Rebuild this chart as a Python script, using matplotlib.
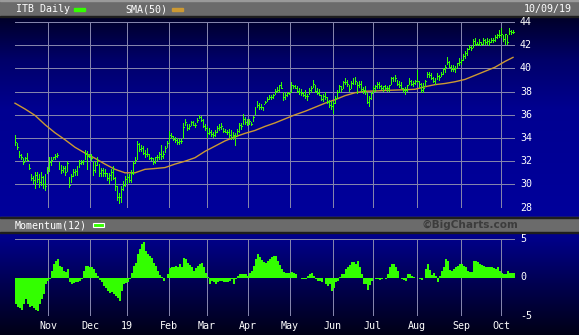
import numpy as np
import matplotlib
matplotlib.use("Agg")
import matplotlib.pyplot as plt
from matplotlib.patches import Rectangle

# ---------------- data ----------------
ticker = "ITB"
date_label = "10/09/19"

high = [
34.3,33.6,32.9,32.6,32.3,32.4,32.7,31.8,30.9,30.7,
31.1,31.1,30.9,31.1,30.7,30.9,31.5,32.4,32.4,32.4,
32.6,32.7,31.9,31.7,31.6,31.6,32.0,30.6,30.9,31.3,
31.3,31.6,32.1,32.1,32.1,33.0,32.9,32.6,32.6,32.0,
31.9,32.4,31.8,31.4,31.4,31.3,31.0,31.0,31.3,31.6,
30.6,29.9,29.3,29.9,30.3,30.7,30.9,30.9,31.2,32.0,
32.4,33.7,33.6,33.4,33.3,33.0,33.1,32.6,32.4,32.3,
32.4,32.5,32.8,33.4,32.9,33.3,33.7,34.6,34.4,34.2,
34.1,34.0,33.9,33.9,35.3,35.6,35.2,35.2,35.5,35.5,
35.3,35.7,36.0,35.9,35.6,35.2,35.0,34.9,34.7,34.5,
34.7,35.0,35.2,35.3,34.9,34.8,34.7,34.8,34.7,34.5,
34.4,34.8,35.3,35.3,36.1,35.8,35.6,35.6,35.4,35.9,
36.7,37.2,37.0,36.9,36.7,37.2,37.5,37.7,37.7,37.8,
38.2,38.4,38.6,38.8,38.0,37.9,38.0,38.0,38.8,38.6,
38.6,38.5,38.3,38.2,38.0,38.1,37.8,38.3,38.5,39.0,
38.6,38.3,38.2,37.7,37.8,38.0,37.5,37.3,37.2,37.2,
37.6,38.1,38.6,38.5,38.9,39.2,39.0,38.6,38.9,39.2,
39.3,38.8,38.9,38.9,38.4,38.5,37.9,37.6,38.0,38.5,
38.6,38.8,38.8,38.6,38.5,38.6,38.5,38.6,39.3,39.3,
39.4,39.0,38.9,38.8,38.3,38.4,38.6,39.2,39.0,38.9,
39.0,39.9,38.9,38.7,38.7,39.0,39.7,39.7,39.6,39.3,
39.2,39.6,39.4,39.7,40.0,40.3,41.0,40.6,40.3,40.3,
40.2,40.5,40.9,40.8,41.2,41.5,41.8,42.0,41.9,42.5,
42.6,42.3,42.5,42.3,42.6,42.5,42.6,42.5,42.6,42.6,
42.9,43.0,43.3,43.5,42.9,43.0,42.9,43.5,43.3,43.3]

low = [
33.3,33.0,32.3,32.1,31.7,31.9,32.0,31.2,30.3,30.0,
29.6,30.1,29.7,29.9,29.6,29.4,30.9,31.1,31.6,32.1,
32.1,32.3,31.2,30.9,31.0,30.7,31.1,29.7,30.1,30.6,
30.7,30.7,31.4,31.7,31.7,32.1,31.2,32.3,32.0,30.7,
31.0,31.6,30.6,30.6,30.6,30.6,30.3,30.0,30.3,30.4,
29.4,28.6,28.3,28.4,29.4,29.8,30.0,30.1,30.1,30.8,
31.8,32.1,32.8,32.8,32.5,32.3,32.4,32.1,32.0,31.7,
31.8,32.0,32.1,32.1,32.2,32.7,33.1,33.6,33.9,33.7,
33.6,33.4,33.4,33.5,33.9,35.0,34.6,34.7,35.0,35.0,
34.9,35.3,35.6,35.4,34.9,34.6,34.0,34.3,34.1,34.0,
34.1,34.4,34.6,34.7,34.4,34.4,34.3,34.0,33.8,33.8,
33.3,34.1,34.4,34.7,35.1,35.1,35.0,35.1,35.0,35.4,
36.0,36.6,36.4,36.4,36.3,36.9,37.1,37.3,37.3,37.4,
37.7,37.9,38.0,38.2,37.2,37.3,37.5,37.7,37.9,38.2,
38.2,37.9,37.7,37.6,37.5,37.4,37.2,37.7,37.9,38.3,
37.9,37.7,37.6,37.2,37.1,37.3,36.9,36.6,36.4,36.1,
36.9,37.4,37.9,38.0,38.2,38.6,38.4,38.0,38.2,38.6,
38.6,37.8,38.3,38.0,37.8,37.7,36.9,36.7,37.3,37.9,
38.0,38.2,38.2,38.1,38.0,38.1,38.0,38.0,38.6,38.8,
38.8,38.5,38.3,38.2,37.9,37.7,38.0,38.6,38.5,38.4,
38.6,38.7,38.3,37.9,37.9,38.4,39.2,39.2,39.0,38.7,
38.6,39.0,38.9,39.3,39.4,39.6,40.3,40.0,39.7,39.7,
39.6,40.0,40.2,40.3,40.6,40.8,41.1,41.6,41.5,41.8,
41.9,41.9,41.9,41.9,42.0,42.0,42.0,41.9,42.2,42.2,
42.3,42.5,42.6,42.6,42.3,42.0,42.0,42.9,42.9,43.0]

close = [
33.6,33.2,32.5,32.3,31.9,32.2,32.1,31.4,30.5,30.3,
30.8,30.4,30.2,30.6,30.0,29.8,31.3,31.9,32.1,32.3,
32.4,32.5,31.5,31.2,31.4,31.0,31.8,29.9,30.7,31.0,
31.1,31.5,31.8,31.9,32.0,32.6,32.4,32.5,32.2,31.2,
31.6,32.0,30.9,31.2,30.9,30.9,30.5,30.8,31.0,30.5,
29.8,28.9,28.9,29.6,29.9,30.4,30.6,30.3,30.9,31.8,
32.1,33.4,33.0,33.1,32.7,32.6,32.6,32.2,32.2,31.9,
32.3,32.3,32.6,32.4,32.6,33.1,33.5,34.2,34.1,33.9,
33.8,33.6,33.7,33.7,34.9,35.3,34.8,35.0,35.3,35.1,
35.1,35.5,35.8,35.5,35.0,34.8,34.4,34.5,34.3,34.2,
34.5,34.8,34.9,35.0,34.6,34.5,34.5,34.2,34.0,34.2,
34.0,34.6,35.1,35.0,35.6,35.3,35.2,35.4,35.2,35.8,
36.5,36.8,36.6,36.6,36.9,37.1,37.3,37.5,37.5,37.7,
38.0,38.1,38.5,38.3,37.5,37.7,37.8,37.9,38.5,38.4,
38.3,38.0,37.9,37.8,37.7,37.6,37.6,38.1,38.3,38.6,
38.0,37.8,37.7,37.3,37.6,37.5,37.1,36.8,36.7,37.0,
37.4,37.9,38.4,38.2,38.8,38.8,38.6,38.2,38.7,39.0,
38.9,38.5,38.6,38.2,38.1,37.9,37.1,37.4,37.8,38.3,
38.4,38.6,38.4,38.3,38.4,38.3,38.3,38.5,39.1,39.0,
39.1,38.6,38.5,38.3,38.1,38.1,38.5,38.9,38.6,38.7,
38.9,38.9,38.6,38.1,38.3,38.9,39.5,39.4,39.1,38.9,
39.0,39.3,39.2,39.5,39.9,40.1,40.5,40.1,39.9,39.9,
40.0,40.4,40.5,40.7,41.0,41.3,41.6,41.8,41.7,42.3,
42.1,42.1,42.2,42.1,42.4,42.2,42.3,42.2,42.4,42.4,
42.7,42.8,42.8,42.9,42.5,42.9,42.2,43.2,43.1,43.1]

# SMA(50) read every 5 trading days
sma_day = [0,5,10,15,20,25,30,35,40,45,50,55,60,65,70,75,80,85,90,95,
           100,105,110,115,120,125,130,135,140,145,150,155,160,165,170,175,
           180,185,190,195,200,205,210,215,220,225,230,235,240,245,249]
sma_val = [37.0,36.5,35.95,35.15,34.45,33.85,33.2,32.7,32.25,31.75,31.3,31.0,
           31.0,31.3,31.37,31.45,31.75,32.0,32.3,32.85,33.3,33.75,34.1,34.4,
           34.65,35.0,35.3,35.65,36.0,36.3,36.65,37.0,37.3,37.65,37.9,38.03,
           38.05,38.1,38.13,38.16,38.2,38.42,38.6,38.7,38.85,39.05,39.4,39.75,
           40.1,40.6,40.95]

momentum = [
-3.4,-3.8,-4.0,-4.2,-3.4,-2.8,-3.5,-3.8,-3.7,-3.9,
-4.2,-4.3,-3.4,-2.8,-2.1,-0.9,-0.5,-0.2,0.8,1.7,
2.1,2.4,1.5,1.3,0.9,0.7,1.1,-0.6,-0.8,-0.7,
-0.6,-0.6,-0.4,-0.2,0.85,1.5,1.5,1.4,1.4,1.1,
0.6,0.2,-0.3,-0.6,-1.1,-1.3,-1.7,-2.0,-1.9,-2.2,
-2.4,-2.6,-3.0,-1.8,-0.9,-0.7,-0.6,-0.2,0.6,1.5,
1.9,3.0,3.7,4.3,4.6,3.4,3.0,2.8,2.5,1.9,
1.5,0.85,0.3,0.05,-0.5,0.0,0.4,1.2,1.4,1.4,
1.5,1.3,1.7,1.3,2.5,2.35,1.9,1.6,1.3,0.85,
1.2,1.5,1.8,1.9,1.3,0.6,0.1,-0.8,-0.4,-0.6,
-0.85,-0.6,-0.5,-0.4,-0.6,-0.6,-0.6,-0.4,-0.2,-0.85,
-0.2,0.2,0.4,0.4,0.4,0.4,0.2,0.6,0.85,1.5,
2.35,3.0,2.7,2.3,2.0,1.9,2.1,2.4,2.6,2.8,
2.8,2.1,1.6,1.1,0.7,0.6,0.6,0.6,0.7,0.6,
0.4,-0.1,-0.1,-0.2,-0.2,-0.2,0.2,0.5,0.6,0.2,
-0.2,-0.4,-0.5,-0.6,0.0,-0.85,-1.1,-0.8,-1.7,-1.3,
-0.6,-0.4,0.1,0.4,0.4,1.1,1.3,1.6,2.0,2.0,
1.8,2.1,1.4,0.5,-0.85,-0.85,-1.6,-1.0,-0.5,0.0,
-0.2,-0.2,-0.3,-0.2,0.0,-0.2,0.4,1.3,1.8,1.8,
1.3,0.85,0.0,-0.2,-0.3,-0.4,0.4,0.5,0.2,0.1,
-0.1,0.0,-0.2,-0.3,0.0,1.1,1.7,1.0,0.3,0.6,
0.2,-0.6,0.2,0.8,1.3,2.35,2.1,1.0,0.85,1.1,
1.3,1.5,1.8,1.8,1.5,1.3,0.85,0.7,0.7,2.1,
2.1,2.0,1.8,1.6,1.5,1.3,1.3,1.3,1.4,1.2,
1.1,1.3,0.85,0.6,0.4,0.4,0.85,0.6,0.6,0.6]

month_labels = ["Nov", "Dec", "19", "Feb", "Mar", "Apr", "May", "Jun", "Jul", "Aug", "Sep", "Oct"]
month_start = [16.5, 37.5, 56, 77, 96, 116.5, 137.5, 159, 179, 201, 223, 243]
price_ticks = [28, 30, 32, 34, 36, 38, 40, 42, 44]
mom_ticks = [-5, 0, 5]

# ---------------- styling ----------------
W, H = 579, 335
GREEN = "#33ff00"
SMA_C = "#cc9933"
GRID = "#8484ac"
FONT = "DejaVu Sans Mono"
FS = 7.2
GRID_LW = 0.72  # one pixel at 100 dpi

fig = plt.figure(figsize=(W / 100, H / 100), dpi=100)

# background axes in pixel coordinates
bg = fig.add_axes([0, 0, 1, 1])
bg.set_xlim(0, W)
bg.set_ylim(H, 0)
bg.axis("off")
ys = np.arange(H) + 0.5
stop_y = [0, 17, 60, 110, 217, 232, 280, 335]
stop_b = [30, 40, 105, 145, 155, 145, 85, 22]
blue = np.interp(ys, stop_y, stop_b) / 255.0
img = np.zeros((H, 1, 3))
img[:, 0, 2] = blue
bg.imshow(img, extent=[0, W, H, 0], aspect="auto", interpolation="nearest", zorder=0)

# header bars
bg.add_patch(Rectangle((0, 0), W, 16, color="#6b6b6b", zorder=1))
bg.add_patch(Rectangle((0, 0), W, 1.2, color="#9a9a9a", zorder=1))
bg.add_patch(Rectangle((0, 16), W, 1.2, color="#1e1e1e", zorder=1))
bg.add_patch(Rectangle((0, 217), W, 15, color="#6b6b6b", zorder=1))
bg.add_patch(Rectangle((0, 216.5), W, 1.2, color="#1e1e1e", zorder=1))
bg.add_patch(Rectangle((0, 231.5), W, 1.2, color="#1e1e1e", zorder=1))

tkw = dict(family=FONT, fontsize=FS, color="white", va="center", zorder=3)
bg.text(16, 9, f"{ticker} Daily", ha="left", **tkw)
bg.add_patch(Rectangle((74, 7.5), 11, 3, color=GREEN, zorder=3))
bg.text(125, 9, "SMA(50)", ha="left", **tkw)
bg.add_patch(Rectangle((172, 7.5), 11, 3, color=SMA_C, zorder=3))
bg.text(572, 9, date_label, ha="right", **tkw)
bg.text(15, 225, "Momentum(12)", ha="left", **tkw)
bg.add_patch(Rectangle((93, 223), 11, 4, facecolor=GREEN, edgecolor="white", lw=0.8, zorder=3))
bg.text(518, 224.5, "\u00a9BigCharts.com", ha="right", va="center", family="DejaVu Sans",
        fontsize=7.6, fontweight="bold", color="#3c3c3c", zorder=3)


def px_axes(x0, x1, y0, y1):
    a = fig.add_axes([x0 / W, 1 - y1 / H, (x1 - x0) / W, (y1 - y0) / H])
    a.axis("off")
    return a


days = np.arange(len(close))
lo_arr = np.array(low)
hi_arr = np.array(high)
cl_arr = np.array(close)
tick_h = 16 / 186.0  # one pixel in price units

# ---- price panel ----
ax = px_axes(15, 515, 22, 207.6)
ax.set_xlim(0, 250)
ax.set_ylim(price_ticks[0], price_ticks[-1])
ax.hlines(price_ticks, 0, 250, colors=GRID, lw=GRID_LW, antialiased=False, zorder=1)
ax.vlines(month_start, price_ticks[0], price_ticks[-1], colors=GRID, lw=GRID_LW,
          antialiased=False, zorder=1)
ax.plot(sma_day, sma_val, color=SMA_C, lw=1.0, zorder=2, clip_on=False)
# high-low bars (one pixel wide) and close ticks to the right
ax.bar(days, hi_arr - lo_arr, bottom=lo_arr, width=0.5, align="edge", color=GREEN,
       linewidth=0, antialiased=False, zorder=3, clip_on=False)
ax.bar(days + 0.5, tick_h, bottom=cl_arr - tick_h / 2, width=0.5, align="edge",
       color=GREEN, linewidth=0, antialiased=False, zorder=3, clip_on=False)

# ---- momentum panel ----
am = px_axes(15, 515, 239, 316)
am.set_xlim(0, 250)
am.set_ylim(mom_ticks[0], mom_ticks[-1])
am.hlines([mom_ticks[0], mom_ticks[-1]], 0, 250, colors=GRID, lw=GRID_LW, antialiased=False, zorder=1)
am.vlines(month_start, mom_ticks[0], mom_ticks[-1], colors=GRID, lw=GRID_LW, antialiased=False, zorder=1)
am.bar(days, momentum, width=1.0, align="edge", color=GREEN, linewidth=0,
       antialiased=False, zorder=2)

# right-hand labels and month labels (in data coordinates of each panel)
for t in price_ticks:
    ax.text(252.5, t, f"{t}", ha="left", va="center", family=FONT, fontsize=FS,
            color="white", clip_on=False)
for t in mom_ticks:
    am.text(252.5, t, f"{t}", ha="left", va="center", family=FONT, fontsize=FS,
            color="white", clip_on=False)
for lab, pos in zip(month_labels, month_start):
    am.text(pos, -6.25, lab, ha="center", va="center", family=FONT, fontsize=FS,
            color="white", clip_on=False)

fig.savefig("out.png", dpi=100)
